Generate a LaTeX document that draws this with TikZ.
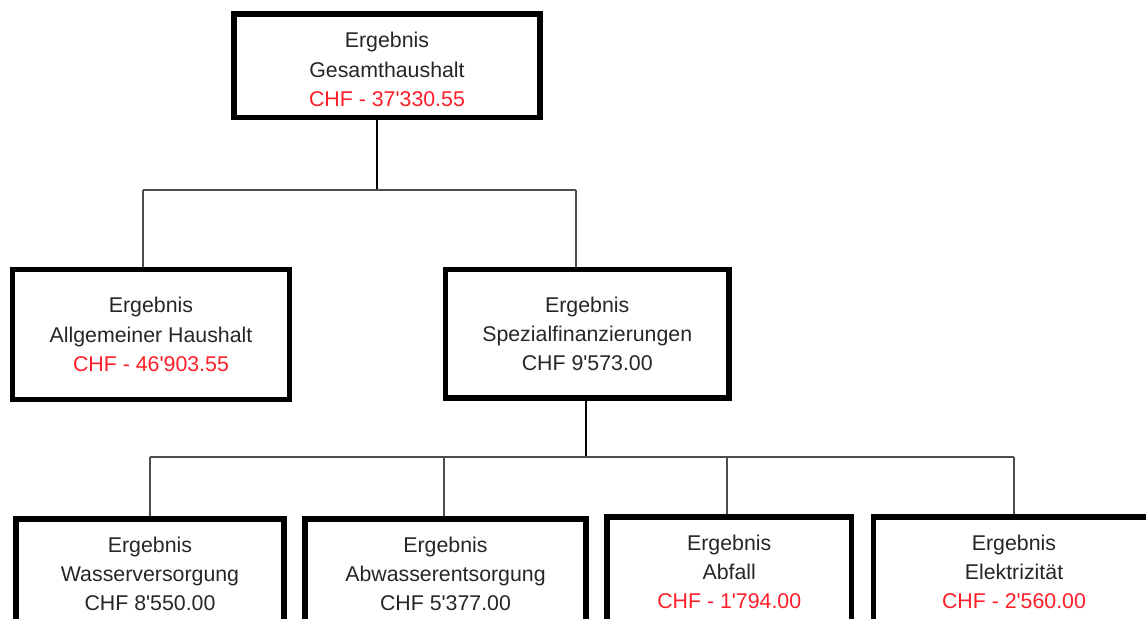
\documentclass[tikz,border=0pt]{standalone}
\usepackage{fontspec}
\setmainfont{Liberation Sans}[Ligatures=TeXOff]
\definecolor{neg}{RGB}{255,30,40}
\begin{document}
\begin{tikzpicture}[x=0.75pt,y=-0.75pt,
  txt/.style={inner sep=0pt,align=center,font=\fontsize{16}{22}\selectfont,text=black!85},
  box/.style={draw=black,line width=3.8pt,rectangle,txt},
  stem/.style={line width=1.5pt,black},
  twig/.style={line width=0.8pt,black!70}]
\useasboundingbox (0,0) rectangle (1146,618);
\clip (0,0) rectangle (1146,618);
% level 0
\node[box,minimum width=306*0.75pt,minimum height=103.5*0.75pt] (top) at (387,65.75) {};
\node[txt] (toptxt) at (387,69.5)
  {Ergebnis\\Gesamthaushalt\\\textcolor{neg}{CHF - 37'330.55}};
% level 1
\node[box,minimum width=277*0.75pt,minimum height=129.5*0.75pt] (allg) at (151,334.5)
  {Ergebnis\\Allgemeiner Haushalt\\\textcolor{neg}{CHF - 46'903.55}};
\node[box,minimum width=283.5*0.75pt,minimum height=128.5*0.75pt] (spez) at (587.25,333.75)
  {Ergebnis\\Spezialfinanzierungen\\CHF 9'573.00};
% level 2
\node[box,minimum width=268*0.75pt,minimum height=110*0.75pt] (wass) at (150,574)
  {Ergebnis\\Wasserversorgung\\CHF 8'550.00};
\node[box,minimum width=281*0.75pt,minimum height=110*0.75pt] (abw) at (445.5,574)
  {Ergebnis\\Abwasserentsorgung\\CHF 5'377.00};
\node[box,minimum width=244.5*0.75pt,minimum height=110*0.75pt] (abf) at (729.25,572)
  {Ergebnis\\Abfall\\\textcolor{neg}{CHF - 1'794.00}};
\node[box,minimum width=281*0.75pt,minimum height=110*0.75pt] (elek) at (1014,572)
  {Ergebnis\\Elektrizität\\\textcolor{neg}{CHF - 2'560.00}};
% junctions
\coordinate (j0) at (377,190);
\coordinate (a0) at (143,190);
\coordinate (b0) at (576,190);
\coordinate (j1) at (586,457);
\coordinate (c1) at (150,457);
\coordinate (c2) at (444,457);
\coordinate (c3) at (727,457);
\coordinate (c4) at (1014,457);
% connectors
\draw[stem] (j0 |- top.south) -- (j0);
\draw[twig] (a0) -- (b0);
\draw[twig] (a0) -- (a0 |- allg.north);
\draw[twig] (b0) -- (b0 |- spez.north);
\draw[stem] (j1 |- spez.south) -- (j1);
\draw[twig] (c1) -- (c4);
\draw[twig] (c1) -- (c1 |- wass.north);
\draw[twig] (c2) -- (c2 |- abw.north);
\draw[twig] (c3) -- (c3 |- abf.north);
\draw[twig] (c4) -- (c4 |- elek.north);
\end{tikzpicture}
\end{document}
